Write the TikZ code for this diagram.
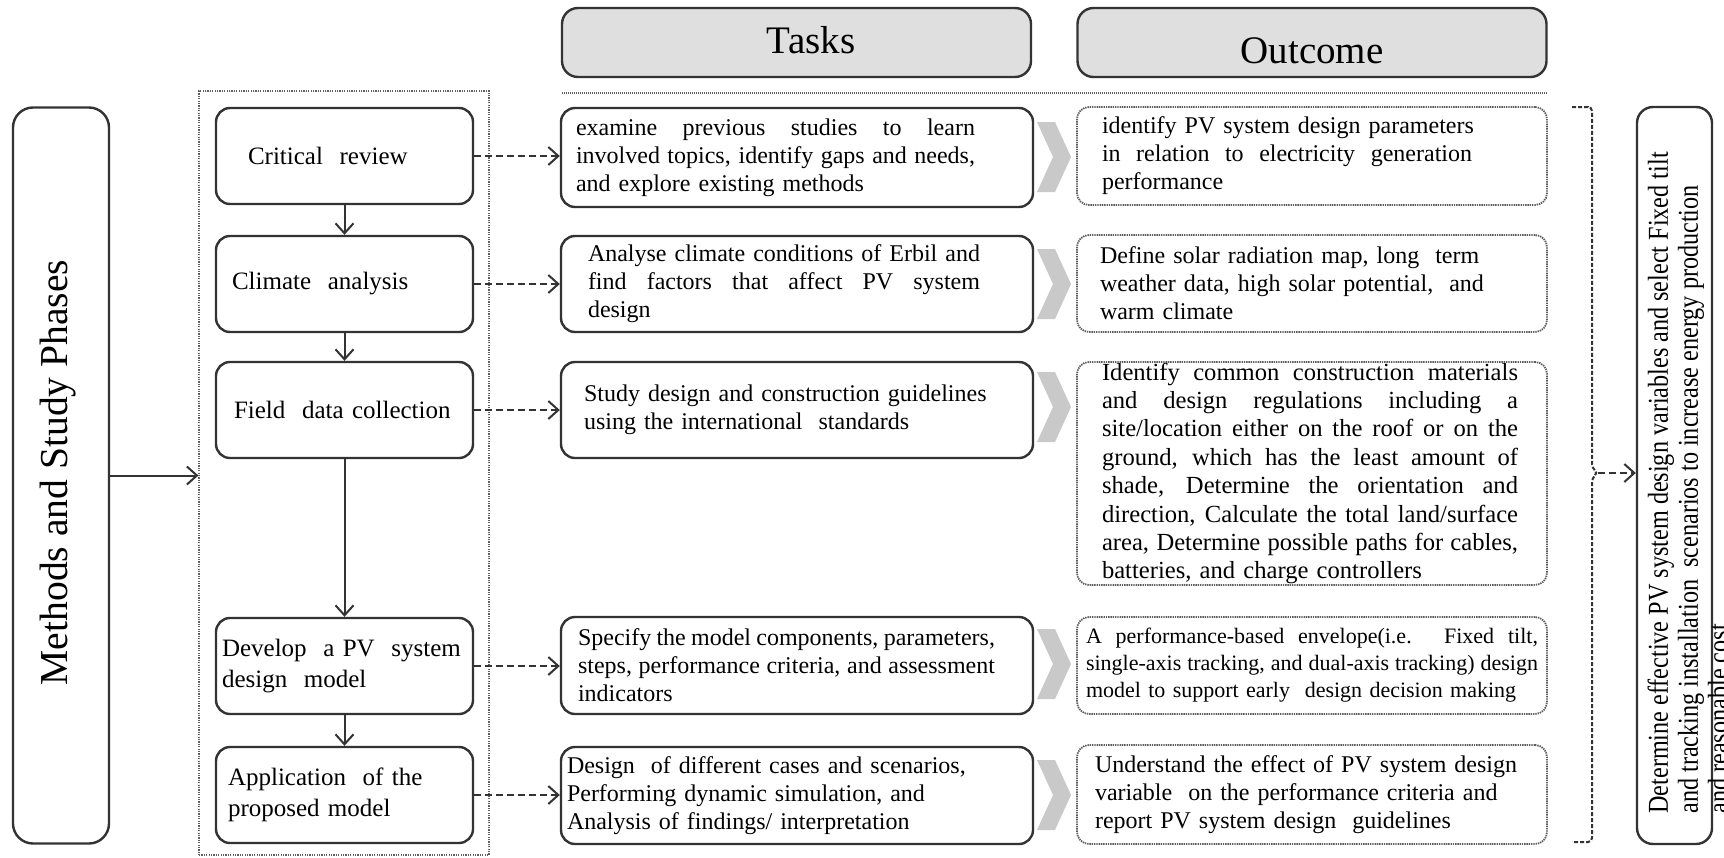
\documentclass[tikz,border=0pt]{standalone}
\usepackage{fontspec}
\setmainfont{Liberation Serif}
\newfontfamily\narrowserif[FakeStretch=0.84]{Liberation Serif}
\usetikzlibrary{arrows.meta,calc}

\definecolor{edge}{HTML}{333333}
\definecolor{headfill}{HTML}{DFDFDF}
\definecolor{chevfill}{HTML}{C9C9C9}
\definecolor{dotgray}{HTML}{5E5E5E}

% a line of text spread to a given width (stretchable word spaces restored)
\newcommand\jline[2]{\makebox[#1][s]{\spaceskip=0pt\xspaceskip=0pt #2}}

\begin{document}
\begin{tikzpicture}[x=0.5pt,y=-0.5pt,
  solidbox/.style={draw=edge,line width=1.2pt,rounded corners=7pt,inner xsep=0pt,inner ysep=0pt,align=left},
  dotbox/.style={draw=dotgray,line width=0.9pt,dash pattern=on 0.7pt off 0.45pt,rounded corners=6pt,inner xsep=0pt,inner ysep=0pt,align=left},
  phase/.style={solidbox,minimum width=128.5pt,minimum height=48pt,font=\fontsize{12.5}{15.5}\selectfont},
  task/.style={solidbox,minimum width=236pt,font=\fontsize{12}{14}\selectfont},
  outcome/.style={dotbox,minimum width=235pt,font=\fontsize{12}{14}\selectfont},
  header/.style={draw=edge,line width=1.2pt,fill=headfill,rounded corners=8pt,minimum width=234.5pt,minimum height=34.5pt,inner sep=0pt},
  headtext/.style={font=\fontsize{19.5}{22}\selectfont,inner sep=0pt,anchor=base},
  flow/.style={draw=edge,line width=1pt,-{Straight Barb[length=5pt,width=9pt]}},
  link/.style={flow,dash pattern=on 3.5pt off 2pt},
  chev/.pic={\fill[chevfill] (-17,-35) -- (1,-35) -- (17,0) -- (1,35) -- (-17,35) -- (-1,0) -- cycle;}
]
\useasboundingbox (0,0) rectangle (1724,857);
\fill[white] (0,0) rectangle (1724,857);

% column headers
\node[header] (tasksh) at (796.5,42.5) {};
\node[headtext] (taskslbl) at (811,53) {Tasks};
\node[header] (outh) at (1312,42.5) {};
\node[headtext] (outlbl) at (1312,63) {Outcome};
\draw[dotgray,line width=1pt,dash pattern=on 0.6pt off 0.4pt] (562,93) -- (1547,93);

% left label
\node[draw=edge,line width=1.2pt,rounded corners=10pt,minimum width=48pt,minimum height=368pt,inner sep=0pt] (methods) at (61,475.5) {};
\node[rotate=90,anchor=base,font=\fontsize{19.8}{22}\selectfont,inner sep=0pt] (methodslbl) at (67,472.5) {Methods and Study Phases};

% frame round the phases
\node[draw=dotgray,line width=0.6pt,dash pattern=on 0.6pt off 0.6pt,minimum width=145pt,minimum height=382pt,inner sep=0pt] (frame) at (344,473) {};

% phases
\node[phase,text width=96.5pt] (crit) at (344.5,156) {Critical~ review};
\node[phase,text width=112.5pt] (clim) at (344.5,284) {Climate~ analysis};
\node[phase,text width=110.5pt] (field) at (344.5,410) {Field~ data collection};
\node[phase,text width=122.5pt] (dev) at (344.5,666) {Develop~ a PV~ system\\design~ model};
\node[phase,text width=116.5pt] (app) at (344.5,795) {Application~ of the\\proposed model};

% tasks
\node[task,minimum height=49.5pt,text width=221pt] (t1) at (797,157.5)
  {\jline{199.5pt}{examine previous studies to learn}\\\jline{199.5pt}{involved topics, identify gaps and needs,}\\and explore existing methods};
\node[task,minimum height=48pt,text width=209pt] (t2) at (797,284)
  {\jline{196pt}{Analyse climate conditions of Erbil and}\\\jline{196pt}{find factors that affect PV system}\\design};
\node[task,minimum height=48pt,text width=213pt] (t3) at (797,410)
  {Study design and construction guidelines\\using the international~ standards};
\node[task,minimum height=48.5pt,text width=219pt] (t4) at (797,665.5)
  {\jline{208.5pt}{Specify the model components, parameters,}\\\jline{208.5pt}{steps, performance criteria, and assessment}\\indicators};
\node[task,minimum height=48.5pt,text width=230pt] (t5) at (797,795.5)
  {Design~ of different cases and scenarios,\\Performing dynamic simulation, and\\Analysis of findings/ interpretation};

% outcomes
\node[outcome,minimum height=49pt,text width=210pt] (o1) at (1312,156)
  {identify PV system design parameters\\\jline{185pt}{in relation to electricity generation}\\performance};
\node[outcome,minimum height=48.5pt,text width=212pt] (o2) at (1312,283.5)
  {Define solar radiation map, long~ term\\weather data, high solar potential,~ and\\warm climate};
\node[outcome,minimum height=111.5pt,text width=210pt,font=\fontsize{12.3}{14.2}\selectfont] (o3) at (1312,473.5)
  {\jline{208pt}{Identify common construction materials}\\
   \jline{208pt}{and design regulations including a}\\
   \jline{208pt}{site/location either on the roof or on the}\\
   \jline{208pt}{ground, which has the least amount of}\\
   \jline{208pt}{shade, Determine the orientation and}\\
   \jline{208pt}{direction, Calculate the total land/surface}\\
   \jline{208pt}{area, Determine possible paths for cables,}\\
   batteries, and charge controllers};
\node[outcome,minimum height=48.5pt,text width=226pt,font=\fontsize{11}{13.5}\selectfont] (o4) at (1312,665.5)
  {\jline{226pt}{A performance-based envelope(i.e. Fixed tilt,}\\\jline{226pt}{single-axis tracking, and dual-axis tracking) design}\\model to support early~ design decision making};
\node[outcome,minimum height=49.5pt,text width=217pt] (o5) at (1312,794.5)
  {Understand the effect of PV system design\\variable~ on the performance criteria and\\report PV system design~ guidelines};

% chevrons between tasks and outcomes
\pic at (1054,157) {chev};
\pic at (1054,284) {chev};
\pic at (1054,407) {chev};
\pic at (1054,664) {chev};
\pic at (1054,795) {chev};

% goal box
\node[draw=edge,line width=1.2pt,rounded corners=8pt,minimum width=37.5pt,minimum height=368.5pt,inner sep=0pt] (goal) at (1674.5,475.5) {};
\node[rotate=90,anchor=west,inner sep=0pt,align=left,font=\narrowserif\fontsize{14.4}{15}\selectfont] (goaltext) at (1688,814)
  {Determine effective PV system design variables and select Fixed tilt\\and tracking installation~ scenarios to increase energy production\\and reasonable cost.};

% connectors
\draw[flow] (methods.east) -- (methods.east -| frame.west);
\draw[flow] (crit.south) -- (clim.north);
\draw[flow] (clim.south) -- (field.north);
\draw[flow] (field.south) -- (dev.north);
\draw[flow] (dev.south) -- (app.north);
\draw[link] (crit.east) -- (crit.east -| t1.west);
\draw[link] (clim.east) -- (clim.east -| t2.west);
\draw[link] (field.east) -- (field.east -| t3.west);
\draw[link] (dev.east) -- (dev.east -| t4.west);
\draw[link] (app.east) -- (app.east -| t5.west);

% brace gathering the outcomes
\coordinate (nub) at (1598,473);
\draw[edge,line width=1pt,dash pattern=on 2pt off 1pt,rounded corners=2pt]
  (1572,107) -- (1592,107) -- (1592,468) -- (nub) -- (1592,478) -- (1592,842) -- (1572,842);
\draw[link] (nub) -- (nub -| goal.west);
\end{tikzpicture}
\end{document}
